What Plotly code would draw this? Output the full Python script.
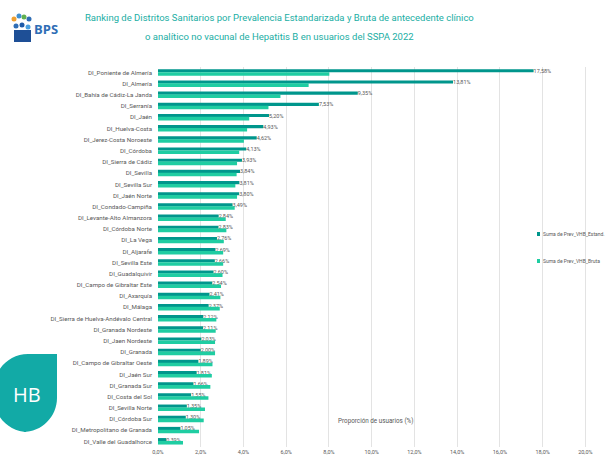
import plotly.graph_objects as go

distritos = [
    "DI_Poniente de Almería", "DI_Almería", "DI_Bahía de Cádiz-La Janda", "DI_Serranía",
    "DI_Jaén", "DI_Huelva-Costa", "DI_Jerez-Costa Noroeste", "DI_Córdoba",
    "DI_Sierra de Cádiz", "DI_Sevilla", "DI_Sevilla Sur", "DI_Jaén Norte",
    "DI_Condado-Campiña", "DI_Levante-Alto Almanzora", "DI_Córdoba Norte", "DI_La Vega",
    "DI_Aljarafe", "DI_Sevilla Este", "DI_Guadalquivir", "DI_Campo de Gibraltar Este",
    "DI_Axarquía", "DI_Málaga", "DI_Sierra de Huelva-Andévalo Central", "DI_Granada Nordeste",
    "DI_Jaen Nordeste", "DI_Granada", "DI_Campo de Gibraltar Oeste", "DI_Jaén Sur",
    "DI_Granada Sur", "DI_Costa del Sol", "DI_Sevilla Norte", "DI_Córdoba Sur",
    "DI_Metropolitano de Granada", "DI_Valle del Guadalhorce",
]
prev_estand = [
    17.58, 13.81, 9.35, 7.53, 5.20, 4.93, 4.62, 4.13, 3.93, 3.84, 3.81, 3.80,
    3.49, 2.84, 2.83, 2.76, 2.69, 2.66, 2.60, 2.54, 2.41, 2.37, 2.12, 2.11,
    2.03, 2.00, 1.89, 1.81, 1.66, 1.55, 1.35, 1.30, 1.05, 0.39,
]
prev_bruta = [
    8.02, 7.05, 5.73, 5.17, 4.27, 4.17, 4.02, 3.80, 3.70, 3.68, 3.62, 3.70,
    3.59, 3.17, 3.20, 3.08, 3.05, 3.05, 3.02, 2.95, 2.92, 2.89, 2.73, 2.70,
    2.67, 2.67, 2.55, 2.52, 2.45, 2.36, 2.20, 2.14, 1.92, 1.17,
]
tick_vals = [0, 2, 4, 6, 8, 10, 12, 14, 16, 18, 20]
tick_text = ["0,0%", "2,0%", "4,0%", "6,0%", "8,0%", "10,0%", "12,0%", "14,0%", "16,0%", "18,0%", "20,0%"]
series_names = ["Suma de Prev_VHB_Estand.", "Suma de Prev_VHB_Bruta"]
title_lines = [
    "Ranking de Distritos Sanitarios por Prevalencia Estandarizada y Bruta de antecedente clínico",
    "o analítico no vacunal de Hepatitis B en usuarios del SSPA 2022",
]

DARK = "#00968c"
LIGHT = "#1fcda2"
TEAL_TITLE = "#1aaea4"
GREY = "#595959"
FONT = "Roboto, sans-serif"

W, H = 616, 461
L, R, T, B = 158, 20, 67, 14
PW, PH = W - L - R, H - T - B


def px(x):
    return (x - L) / PW


def py(y):
    return 1 - (y - T) / PH


labels = [f"{v:.2f}".replace(".", ",") + "%" for v in prev_estand]

fig = go.Figure()
fig.add_trace(go.Bar(
    y=distritos, x=prev_estand, orientation="h", name=series_names[0],
    marker=dict(color=DARK, line=dict(width=0)), width=0.28, offset=-0.30,
    text=labels, textposition="outside", constraintext="none",
    textfont=dict(size=5.5, color=GREY, family=FONT),
    cliponaxis=False, showlegend=False,
))
fig.add_trace(go.Bar(
    y=distritos, x=prev_bruta, orientation="h", name=series_names[1],
    marker=dict(color=LIGHT, line=dict(width=0)), width=0.32, offset=-0.04,
    showlegend=False,
))

shapes = []
annotations = []

# title
for i, line in enumerate(title_lines):
    annotations.append(dict(
        text=line, xref="paper", yref="paper", x=px(279), y=py(17 + i * 19),
        xanchor="center", yanchor="middle", showarrow=False,
        font=dict(size=9.5, color=TEAL_TITLE, family=FONT),
    ))

# manual legend
for i, (nm, col) in enumerate(zip(series_names, [DARK, LIGHT])):
    yc = 234 + i * 27
    shapes.append(dict(type="rect", xref="paper", yref="paper",
                       x0=px(537), x1=px(540), y0=py(yc - 2), y1=py(yc + 2),
                       fillcolor=col, line=dict(width=0)))
    annotations.append(dict(
        text=nm, xref="paper", yref="paper", x=px(541), y=py(yc),
        xanchor="left", yanchor="middle", showarrow=False,
        font=dict(size=5, color=GREY, family=FONT),
    ))

# axis title inside plot
annotations.append(dict(
    text="Proporción de usuarios (%)", xref="paper", yref="paper", x=px(375), y=py(421),
    xanchor="center", yanchor="middle", showarrow=False,
    font=dict(size=6.3, color=GREY, family=FONT),
))

# BPS logo
annotations.append(dict(
    text="<b>BPS</b>", xref="paper", yref="paper", x=px(32), y=py(29),
    xanchor="left", yanchor="middle", showarrow=False,
    font=dict(size=13, color="#2f6db5", family="Open Sans, sans-serif"),
))
logo_dots = [
    (14, 19, "#f0a030"), (19, 16, "#3f8fd0"), (24, 17, "#60b050"),
    (29, 19, "#2f6db5"), (16, 26, "#2f6db5"), (22, 25, "#1e5aa8"), (28, 27, "#4aa0e0"),
]
for (x, y, c) in logo_dots:
    shapes.append(dict(type="circle", xref="paper", yref="paper",
                       x0=px(x - 2.5), x1=px(x + 2.5), y0=py(y - 2.5), y1=py(y + 2.5),
                       fillcolor=c, line=dict(width=0)))
shapes.append(dict(type="rect", xref="paper", yref="paper",
                   x0=px(14), x1=px(31), y0=py(30), y1=py(42),
                   fillcolor="#1e4f96", line=dict(width=0)))

# HB drop
x0, x1, y0, y1 = -6, 57, 354, 432
r = 34
path = (
    f"M {px(x1)},{py(y0)} "
    f"L {px(x1)},{py(y1 - r)} "
    f"C {px(x1)},{py(y1 - r * 0.45)} {px(x1 - r * 0.45)},{py(y1)} {px(x1 - r)},{py(y1)} "
    f"L {px(x0 + r)},{py(y1)} "
    f"C {px(x0 + r * 0.45)},{py(y1)} {px(x0)},{py(y1 - r * 0.45)} {px(x0)},{py(y1 - r)} "
    f"L {px(x0)},{py(y0 + r)} "
    f"C {px(x0)},{py(y0 + r * 0.45)} {px(x0 + r * 0.45)},{py(y0)} {px(x0 + r)},{py(y0)} Z"
)
shapes.append(dict(type="path", xref="paper", yref="paper", path=path,
                   fillcolor="#12aaa6", line=dict(width=0), layer="above"))
annotations.append(dict(
    text="HB", xref="paper", yref="paper", x=px(27), y=py(394),
    xanchor="center", yanchor="middle", showarrow=False,
    font=dict(size=20, color="white", family="Open Sans, sans-serif"),
))

fig.update_layout(
    width=W, height=H,
    margin=dict(l=L, r=R, t=T, b=B, pad=0, autoexpand=False),
    paper_bgcolor="white", plot_bgcolor="white",
    barmode="overlay",
    font=dict(family=FONT, color=GREY, size=6),
    xaxis=dict(range=[0, 20.5], tickvals=tick_vals, ticktext=tick_text, automargin=False,
               showgrid=True, gridcolor="#e3e3e3", gridwidth=1, zeroline=False,
               showline=False, ticks="", tickfont=dict(size=5.5, color=GREY, family=FONT)),
    yaxis=dict(autorange="reversed", showgrid=False, showline=False, ticks="", automargin=False,
               ticklabelstandoff=5, tickfont=dict(size=6.2, color=GREY, family=FONT)),
    shapes=shapes, annotations=annotations,
    showlegend=False,
)

fig.write_html(
    "out.html",
    config={"displayModeBar": False},
    post_script="document.body.style.margin='0';document.body.style.overflow='hidden';",
)
